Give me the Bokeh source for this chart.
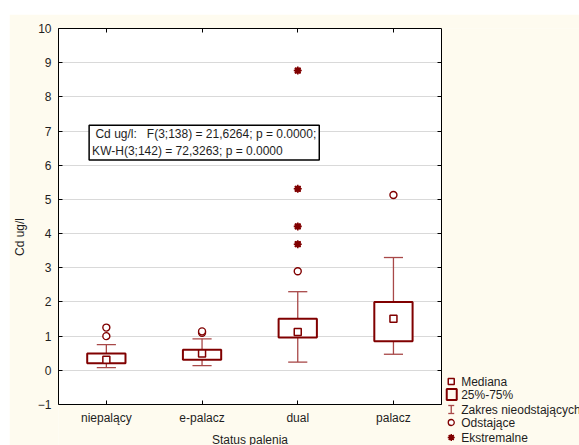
from bokeh.plotting import figure
from bokeh.models import Range1d, FixedTicker, LinearAxis, Label, Spacer
from bokeh.layouts import row, column
from bokeh.embed import file_html
from bokeh.resources import INLINE
from bokeh.core.properties import value

# ---- data ----
categories = ["niepalący", "e-palacz", "dual", "palacz"]
medians = [0.31, 0.49, 1.12, 1.51]
q1 = [0.21, 0.31, 0.96, 0.85]
q3 = [0.49, 0.60, 1.51, 2.00]
whisker_low = [0.08, 0.14, 0.24, 0.47]
whisker_high = [0.75, 0.92, 2.30, 3.30]
outlier_group = [1, 1, 2, 2, 3, 4]
outlier_values = [1.00, 1.25, 1.10, 1.14, 2.90, 5.13]
extreme_group = [3, 3, 3, 3]
extreme_values = [3.69, 4.21, 5.31, 8.77]
y_ticks = list(range(-1, 11))
annotation_lines = ["\u00a0Cd ug/l:\u00a0\u00a0\u00a0F(3;138) = 21,6264; p = 0.0000;",
                    "KW-H(3;142) = 72,3263; p = 0.0000"]
legend_labels = ["Mediana", "25%-75%", "Zakres nieodstających", "Odstające", "Ekstremalne"]

RED = "#800000"
WHISK = "#a84848"
CREAM = "#fefbef"
FONT = "Liberation Sans"
TXT = "#1e1e1e"

# plot-area geometry (px)
X0, X1, Y0, Y1 = 0.5, 4.5, -1, 10
AREA_W, AREA_H = 385, 376
BL, BT = 46, 14
W, H = 570, 431
FW, FH = W - BL, H - BT          # frame covers everything right/below of the plot area
ux = (X1 - X0) / AREA_W
uy = (Y1 - Y0) / AREA_H
XMAX = X0 + FW * ux
YMIN = Y1 - FH * uy

xs = [i + 1 for i in range(len(categories))]

p = figure(width=W, height=H, x_range=Range1d(X0, XMAX), y_range=Range1d(YMIN, Y1),
           output_backend="svg", toolbar_location=None, x_axis_location=None,
           min_border_left=BL, min_border_right=0, min_border_top=BT, min_border_bottom=0,
           background_fill_color=CREAM, border_fill_color=CREAM, outline_line_color=None)

# white plot area
p.quad(left=[X0], right=[X1], bottom=[Y0], top=[Y1], fill_color="white", line_color=None,
       level="image")

p.xgrid.visible = False
p.ygrid.ticker = FixedTicker(ticks=y_ticks)
p.ygrid.grid_line_color = "#d9d9d9"
p.ygrid.grid_line_width = 1.2
# hide grid beyond plot area (legend zone)
p.quad(left=[X1], right=[XMAX], bottom=[YMIN], top=[Y1], fill_color=CREAM, line_color=None)

# left axis
ya = p.yaxis[0]
ya.ticker = FixedTicker(ticks=y_ticks)
ya.bounds = (Y0, Y1)
ya.major_tick_in = 4
ya.major_tick_out = 0
ya.minor_tick_line_color = None
ya.major_label_standoff = 7
ya.major_label_text_font = FONT
ya.major_label_text_font_size = "12px"
ya.major_label_text_color = TXT
ya.axis_label = "Cd ug/l"
ya.axis_label_text_font = FONT
ya.axis_label_text_font_size = "12px"
ya.axis_label_text_font_style = "normal"
ya.axis_label_text_color = TXT
ya.axis_label_standoff = 8

# bottom axis, fixed at y = -1
xa = LinearAxis(fixed_location=Y0, bounds=(X0, X1), ticker=FixedTicker(ticks=xs),
                major_label_overrides={x: c for x, c in zip(xs, categories)},
                major_tick_in=4, major_tick_out=0, minor_tick_line_color=None,
                major_label_standoff=6, major_label_text_font=FONT,
                major_label_text_font_size="12px", major_label_text_color=TXT,
                axis_label="Status palenia", axis_label_text_font=FONT,
                axis_label_text_font_size="12px", axis_label_text_font_style="normal",
                axis_label_text_color=TXT, axis_label_standoff=5)
p.add_layout(xa, "below")

# top axis (ticks only)
ta = LinearAxis(bounds=(X0, X1), ticker=FixedTicker(ticks=xs), major_tick_in=4,
                major_tick_out=0, minor_tick_line_color=None,
                major_label_text_font_size="1px", major_label_text_color=None,
                major_label_standoff=0)
p.add_layout(ta, "above")

# right axis fixed at x = 4.5 (ticks only)
ra = LinearAxis(fixed_location=X1, bounds=(Y0, Y1), ticker=FixedTicker(ticks=y_ticks),
                major_tick_in=4, major_tick_out=0, minor_tick_line_color=None,
                major_label_text_font_size="1px", major_label_text_color=None,
                major_label_standoff=0)
p.add_layout(ra, "right")

# whiskers
p.segment(x0=xs, y0=q3, x1=xs, y1=whisker_high, line_color=WHISK, line_width=1.3)
p.segment(x0=xs, y0=q1, x1=xs, y1=whisker_low, line_color=WHISK, line_width=1.3)
p.segment(x0=[x - 0.1 for x in xs], y0=whisker_high, x1=[x + 0.1 for x in xs], y1=whisker_high,
          line_color=WHISK, line_width=1.3)
p.segment(x0=[x - 0.1 for x in xs], y0=whisker_low, x1=[x + 0.1 for x in xs], y1=whisker_low,
          line_color=WHISK, line_width=1.3)

# boxes
p.vbar(x=xs, width=0.4, bottom=q1, top=q3, fill_color="white", line_color=RED, line_width=2)

# medians
p.scatter(x=xs, y=medians, marker="square", size=7, fill_color="white",
          line_color=RED, line_width=1.5)

# outliers
p.scatter(x=outlier_group, y=outlier_values, marker="circle", size=7, fill_color="white",
          line_color=RED, line_width=1.4)

# extremes
p.scatter(x=extreme_group, y=extreme_values, marker="square", size=5, fill_color=RED,
          line_color=RED, line_width=1)
p.scatter(x=extreme_group, y=extreme_values, marker="asterisk", size=8,
          line_color=RED, line_width=1.6)

# annotation box
p.add_layout(Label(x=0.82, y=7.17, text="\n".join(annotation_lines), text_align="left",
                   text_baseline="top", text_font=FONT, text_font_size="12px", text_color=TXT,
                   border_line_color="black", border_line_width=1.5,
                   background_fill_color="white",
                   padding=dict(left=3, right=3, top=2, bottom=2)))

# ---- legend, positioned in px from the plot area's bottom-right corner ----
def dx(px):
    return X1 + px * ux


def dy(px):
    return Y0 - px * uy


leg_dy = [-23, -10, 5, 18, 33]
mx = 10

p.scatter(x=[dx(mx)], y=[dy(leg_dy[0])], marker="square", size=6, fill_color="white",
          line_color=RED, line_width=1.5)
p.rect(x=[dx(mx + 0.5)], y=[dy(leg_dy[1])], width=10, height=11, width_units="screen",
       height_units="screen", fill_color=None, line_color=RED, line_width=2)
p.segment(x0=[dx(mx), dx(mx - 3), dx(mx - 3)],
          y0=[dy(leg_dy[2] - 4), dy(leg_dy[2] - 4), dy(leg_dy[2] + 4)],
          x1=[dx(mx), dx(mx + 3), dx(mx + 3)],
          y1=[dy(leg_dy[2] + 4), dy(leg_dy[2] - 4), dy(leg_dy[2] + 4)],
          line_color=WHISK, line_width=1.3)
p.scatter(x=[dx(mx)], y=[dy(leg_dy[3])], marker="circle", size=6, fill_color="white",
          line_color=RED, line_width=1.3)
p.scatter(x=[dx(mx)], y=[dy(leg_dy[4])], marker="square", size=4, fill_color=RED, line_color=RED)
p.scatter(x=[dx(mx)], y=[dy(leg_dy[4])], marker="asterisk", size=7, line_color=RED,
          line_width=1.5)
p.text(x=[dx(mx + 10)] * 5, y=[dy(o) for o in leg_dy], text=legend_labels,
       text_baseline="middle", text_align="left", text_font=value(FONT),
       text_font_size="12px", text_color=TXT)

layout = column(Spacer(height=14, width=10), row(Spacer(width=9, height=10), p, spacing=0),
                spacing=0)

open("out.html", "w").write(file_html(layout, INLINE))
